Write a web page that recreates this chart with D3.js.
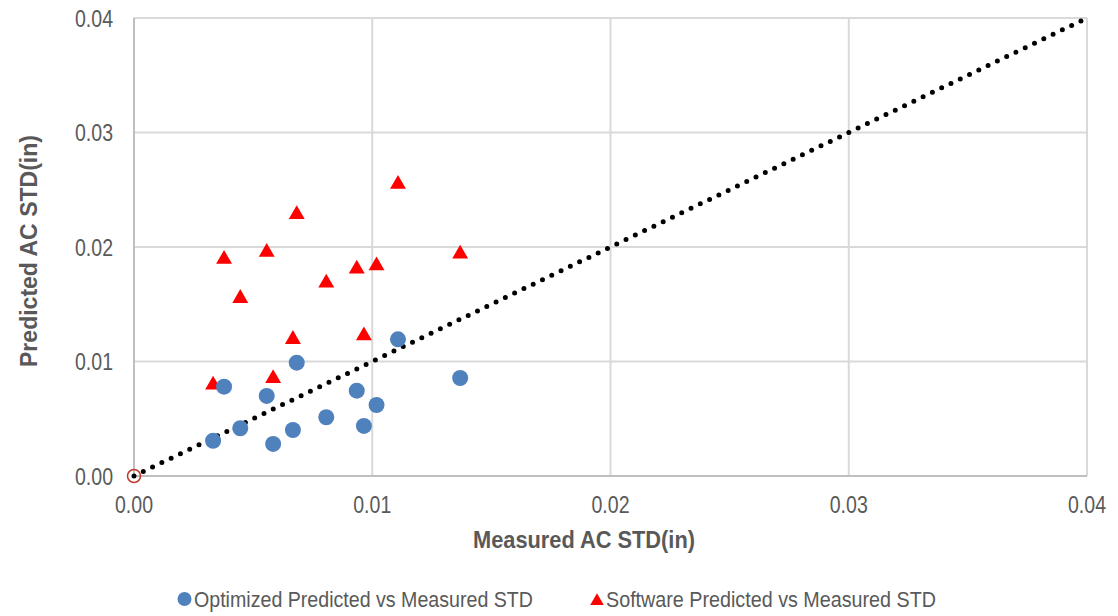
<!DOCTYPE html>
<html>
<head>
  <meta charset="utf-8">
  <script src="https://d3js.org/d3.v7.min.js"></script>
  <style>
    body { margin: 0; background: #fff; }
    svg text { font-family: "Liberation Sans Narrow", "Arial Narrow", "Liberation Sans", Arial, sans-serif; fill: #595959; }
    .tick-label { font-size: 23px; }
    .axis-title { font-size: 24px; font-weight: bold; }
    .legend-label { font-size: 22px; }
  </style>
</head>
<body>
  <svg id="chart" width="1118" height="616"></svg>
  <script>
    // Medido (x) e previsto (y), em polegadas
    const measured = [0.00332, 0.00378, 0.00446, 0.00557, 0.00584, 0.00667, 0.00683, 0.00807, 0.00935, 0.00965, 0.01018, 0.01108, 0.01369];
    const optimizedPred = [0.00308, 0.0078, 0.00417, 0.00699, 0.0028, 0.00402, 0.0099, 0.00513, 0.00745, 0.00437, 0.0062, 0.01194, 0.00856];
    const softwarePred = [0.00795, 0.01893, 0.01552, 0.01954, 0.00853, 0.01194, 0.02285, 0.01686, 0.01808, 0.01225, 0.01837, 0.02548, 0.01939];
    const ticks = [0, 0.01, 0.02, 0.03, 0.04];
    const seriesNames = ["Optimized Predicted vs Measured STD", "Software Predicted vs Measured STD"];

    const svg = d3.select("#chart");
    const x = d3.scaleLinear().domain([0, 0.04]).range([134, 1087]);
    const y = d3.scaleLinear().domain([0, 0.04]).range([476, 18]);
    const fmt = d3.format(".2f");

    // Linhas de grade
    svg.selectAll(".vgrid").data(ticks.slice(1)).enter().append("line")
      .attr("x1", d => x(d)).attr("x2", d => x(d))
      .attr("y1", y(0.04)).attr("y2", y(0))
      .attr("stroke", "#d9d9d9").attr("stroke-width", 2);
    svg.selectAll(".hgrid").data(ticks.slice(1)).enter().append("line")
      .attr("x1", x(0)).attr("x2", x(0.04))
      .attr("y1", d => y(d)).attr("y2", d => y(d))
      .attr("stroke", "#d9d9d9").attr("stroke-width", 2);

    // Eixos
    svg.append("line").attr("x1", x(0)).attr("x2", x(0.04)).attr("y1", y(0)).attr("y2", y(0))
      .attr("stroke", "#bfbfbf").attr("stroke-width", 2);
    svg.append("line").attr("x1", x(0)).attr("x2", x(0)).attr("y1", y(0)).attr("y2", y(0.04))
      .attr("stroke", "#bfbfbf").attr("stroke-width", 2);

    // Rótulos dos ticks (fonte estreita simulada com textLength)
    svg.selectAll(".ylab").data(ticks).enter().append("text")
      .attr("class", "tick-label")
      .attr("x", 113).attr("y", d => y(d) + 8.5)
      .attr("text-anchor", "end")
      .attr("textLength", 38).attr("lengthAdjust", "spacingAndGlyphs")
      .text(d => fmt(d));
    svg.selectAll(".xlab").data(ticks).enter().append("text")
      .attr("class", "tick-label")
      .attr("x", d => x(d)).attr("y", 513)
      .attr("text-anchor", "middle")
      .attr("textLength", 38).attr("lengthAdjust", "spacingAndGlyphs")
      .text(d => fmt(d));

    // Títulos dos eixos
    svg.append("text").attr("class", "axis-title")
      .attr("x", 584).attr("y", 548).attr("text-anchor", "middle")
      .attr("textLength", 222).attr("lengthAdjust", "spacingAndGlyphs")
      .text("Measured AC STD(in)");
    svg.append("text").attr("class", "axis-title")
      .attr("transform", "translate(37,251) rotate(-90)").attr("text-anchor", "middle")
      .attr("textLength", 232).attr("lengthAdjust", "spacingAndGlyphs")
      .text("Predicted AC STD(in)");

    // Linha 1:1 pontilhada
    svg.append("line")
      .attr("x1", x(0)).attr("y1", y(0)).attr("x2", x(0.04)).attr("y2", y(0.04))
      .attr("stroke", "#000").attr("stroke-width", 5)
      .attr("stroke-linecap", "round").attr("stroke-dasharray", "0 10.3");

    // Marcador na origem
    svg.append("circle").attr("cx", x(0)).attr("cy", y(0)).attr("r", 6.5)
      .attr("fill", "none").attr("stroke", "#c0392b").attr("stroke-width", 1.5);

    const tri = d3.symbol().type(d3.symbolTriangle).size(110);

    // Triângulos (software)
    svg.selectAll(".tri").data(measured).enter().append("path")
      .attr("d", tri)
      .attr("transform", (d, i) => `translate(${x(d)},${y(softwarePred[i])})`)
      .attr("fill", "#ff0000");

    // Círculos (otimizado)
    svg.selectAll(".dot").data(measured).enter().append("circle")
      .attr("cx", d => x(d)).attr("cy", (d, i) => y(optimizedPred[i]))
      .attr("r", 8).attr("fill", "#4f81bd");

    // Legenda
    const lg = svg.append("g");
    lg.append("circle").attr("cx", 184.5).attr("cy", 599).attr("r", 7).attr("fill", "#4f81bd");
    lg.append("text").attr("class", "legend-label").attr("x", 194).attr("y", 607)
      .attr("textLength", 339).attr("lengthAdjust", "spacingAndGlyphs")
      .text(seriesNames[0]);
    lg.append("path").attr("d", d3.symbol().type(d3.symbolTriangle).size(80))
      .attr("transform", "translate(597,601)").attr("fill", "#ff0000");
    lg.append("text").attr("class", "legend-label").attr("x", 606).attr("y", 607)
      .attr("textLength", 330).attr("lengthAdjust", "spacingAndGlyphs")
      .text(seriesNames[1]);
  </script>
</body>
</html>
